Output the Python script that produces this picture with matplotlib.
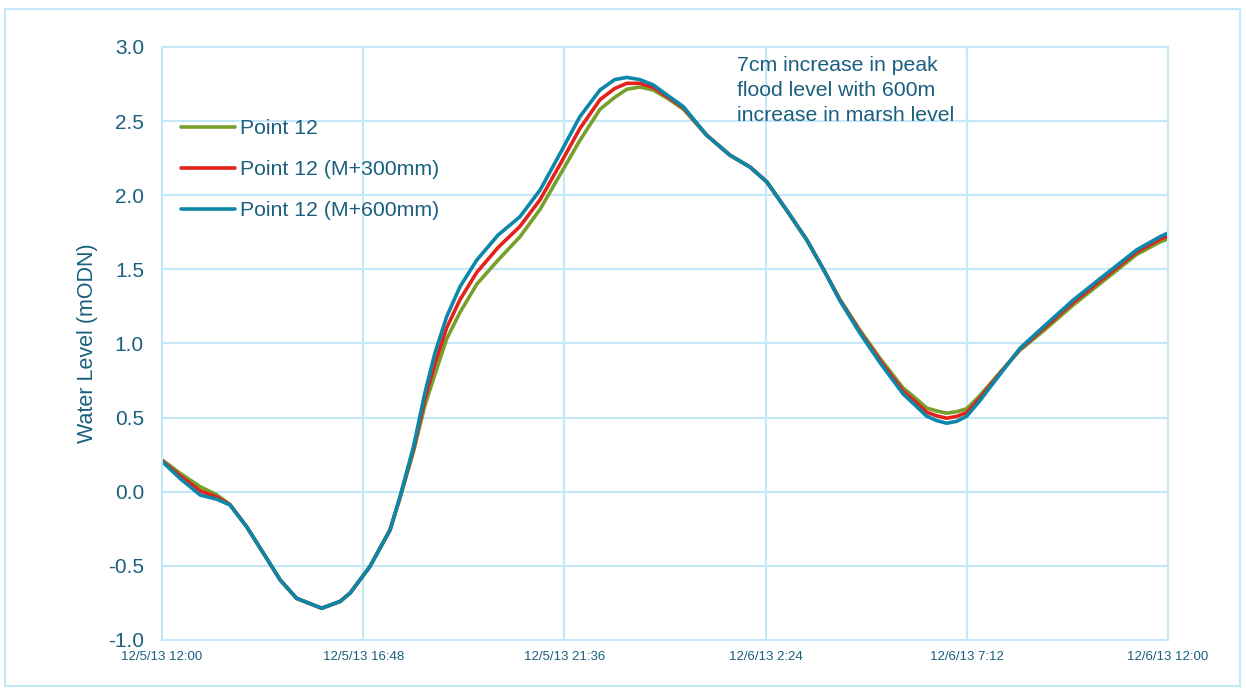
import numpy as np
import matplotlib
matplotlib.use("Agg")
import matplotlib.pyplot as plt
from matplotlib.patches import Rectangle

# hours after 12/5/13 12:00
hours = [0.0, 0.43, 0.91, 1.3, 1.62, 2.02, 2.42, 2.82, 3.21, 3.81, 4.25, 4.49,
         4.96, 5.44, 5.68, 6.0, 6.27, 6.51, 6.79, 7.11, 7.51, 8.02, 8.54, 9.02, 9.5,
         9.97, 10.45, 10.8, 11.09, 11.4, 11.72, 12.08, 12.44, 12.99, 13.55, 14.03, 14.43,
         14.9, 15.38, 15.78, 16.17, 16.65, 17.13, 17.68, 18.0, 18.24, 18.48, 18.72, 18.96,
         19.2, 19.5, 20.07, 20.47, 21.03, 21.74, 22.54, 23.25, 23.81, 24.0]

# modelled water level at Point 12 (mODN)
level_base = [0.215, 0.125, 0.034, -0.02, -0.085, -0.236, -0.415, -0.595, -0.719, -0.786, -0.74, -0.683,
              -0.505, -0.258, -0.04, 0.27, 0.58, 0.79, 1.03, 1.21, 1.40, 1.563, 1.72, 1.905, 2.14,
              2.37, 2.58, 2.66, 2.715, 2.73, 2.71, 2.65, 2.58, 2.406, 2.27, 2.19, 2.09,
              1.90, 1.70, 1.50, 1.30, 1.09, 0.90, 0.70, 0.625, 0.565, 0.545, 0.53, 0.54,
              0.56, 0.645, 0.83, 0.955, 1.085, 1.26, 1.44, 1.60, 1.685, 1.705]
level_m300 = [0.21, 0.108, 0.006, -0.035, -0.087, -0.236, -0.415, -0.595, -0.719, -0.786, -0.74, -0.683,
              -0.505, -0.258, -0.036, 0.287, 0.622, 0.862, 1.105, 1.296, 1.48, 1.648, 1.79, 1.97, 2.21,
              2.45, 2.645, 2.72, 2.755, 2.755, 2.727, 2.66, 2.59, 2.406, 2.27, 2.19, 2.09,
              1.90, 1.70, 1.50, 1.295, 1.08, 0.885, 0.68, 0.60, 0.537, 0.512, 0.496, 0.508,
              0.535, 0.628, 0.826, 0.962, 1.10, 1.277, 1.457, 1.616, 1.703, 1.725]
level_m600 = [0.205, 0.09, -0.022, -0.05, -0.089, -0.236, -0.415, -0.595, -0.719, -0.786, -0.74, -0.683,
              -0.505, -0.258, -0.033, 0.304, 0.664, 0.934, 1.18, 1.383, 1.563, 1.732, 1.855, 2.035, 2.283,
              2.53, 2.71, 2.78, 2.795, 2.78, 2.744, 2.67, 2.597, 2.406, 2.27, 2.19, 2.09,
              1.90, 1.70, 1.50, 1.29, 1.07, 0.87, 0.66, 0.575, 0.51, 0.48, 0.462, 0.475,
              0.51, 0.61, 0.821, 0.968, 1.113, 1.293, 1.473, 1.631, 1.72, 1.745]

series_labels = ["Point 12", "Point 12 (M+300mm)", "Point 12 (M+600mm)"]
series_colors = ["#76A02C", "#E4221B", "#0B87A9"]

xtick_pos = [0, 4.8, 9.6, 14.4, 19.2, 24]
xtick_labels = ["12/5/13 12:00", "12/5/13 16:48", "12/5/13 21:36",
                "12/6/13 2:24", "12/6/13 7:12", "12/6/13 12:00"]
yticks = [-1.0, -0.5, 0.0, 0.5, 1.0, 1.5, 2.0, 2.5, 3.0]

note = "7cm increase in peak\nflood level with 600m\nincrease in marsh level"

TXT = "#1a5f7f"
GRID = "#c4e8f8"

plt.rcParams['font.family'] = ['Liberation Sans', 'DejaVu Sans']

fig = plt.figure(figsize=(12.46, 6.90), dpi=100)
ax = fig.add_axes([0.130, 0.0725, 0.8074, 0.8594])

# outer frame round the whole chart
fig.patches.append(Rectangle((0.004, 0.006), 0.991, 0.981, transform=fig.transFigure,
                             fill=False, edgecolor=GRID, linewidth=1.5))

for y, lab, col in zip([level_base, level_m300, level_m600], series_labels, series_colors):
    ax.plot(hours, y, color=col, linewidth=2.6, label=lab,
            solid_capstyle='round', solid_joinstyle='round')

ax.set_xlim(0, 24)
ax.set_ylim(-1.0, 3.0)
ax.set_xticks(xtick_pos)
ax.set_xticklabels(xtick_labels)
ax.set_yticks(yticks)
ax.set_yticklabels([f"{v:.1f}" for v in yticks])
ax.tick_params(axis='x', length=0, pad=8, labelsize=9.5, labelcolor=TXT)
ax.tick_params(axis='y', length=0, pad=13, labelsize=15, labelcolor=TXT)
ax.grid(True, color=GRID, linewidth=1.5)
ax.set_axisbelow(True)
for s in ax.spines.values():
    s.set_color(GRID)
    s.set_linewidth(1.5)

ax.set_ylabel("Water Level (mODN)", fontsize=15.5, color=TXT, labelpad=7)

ax.text(0.5716, 0.985, note, transform=ax.transAxes, ha='left', va='top',
        fontsize=15.3, color=TXT, linespacing=1.4)

leg = ax.legend(loc='upper left', bbox_to_anchor=(0.0, 0.91), frameon=False,
                fontsize=15.3, handlelength=2.54, handletextpad=0.24, labelspacing=1.03,
                borderaxespad=0.5)
for t in leg.get_texts():
    t.set_color(TXT)

fig.savefig("out.png", dpi=100)
